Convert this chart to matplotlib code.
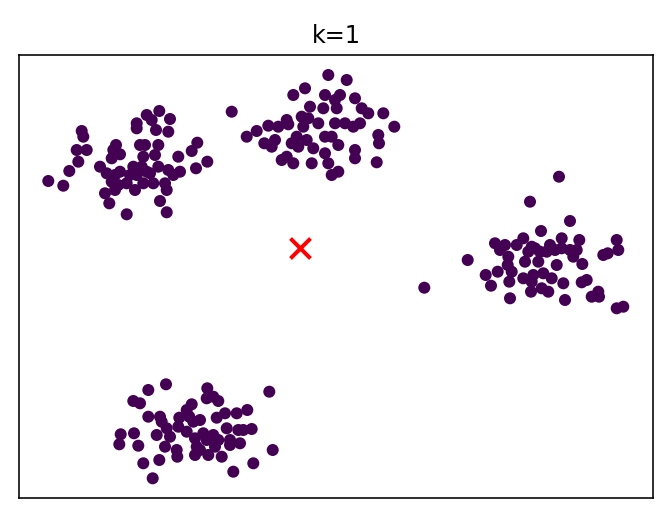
import numpy as np
import matplotlib
matplotlib.use("Agg")
import matplotlib.pyplot as plt

# point positions (x right, y up)
cluster_a = [(48.3, 181), (63.3, 185.7), (69.3, 171), (78.3, 161.7), (76.7, 150), (86.7, 150),
             (81.7, 131), (83.3, 136.7), (100, 166.7), (105, 193.3), (109.3, 203.3), (106.7, 173.3),
             (111.7, 158.3), (113.3, 150), (116, 145), (120, 154.3), (115, 175), (118.3, 185),
             (115, 190), (126.7, 214.3), (120, 171.7), (126.7, 183.3), (133.3, 166.7), (135, 190),
             (136.7, 128.3), (136.7, 123.3), (140, 145), (145, 145), (143.3, 156.7), (141.7, 166.7),
             (146.7, 115), (151.7, 120), (159.3, 111), (156, 130), (168.3, 131.7), (170, 119),
             (158.3, 145), (155, 155), (158.3, 166.7), (146.7, 171.7), (143.3, 183.3), (153.3, 183.3),
             (165, 183.3), (166.7, 190), (160, 201), (166.7, 212.3), (168.3, 170), (173.3, 175),
             (180, 171.7), (178.3, 156.7), (191.7, 151), (197.3, 142.7), (196, 168.3), (207.3, 161.7),
             (130, 175), (136.7, 175), (150, 173.3), (111.7, 181.7)]
cluster_b = [(231.7, 111.7), (246.7, 136.7), (256.7, 131), (264.3, 143.3), (268.3, 125.7), (275, 140),
             (271.7, 146.7), (278.3, 126.7), (286.7, 120), (288.3, 124.3), (293.3, 95), (305, 88.3),
             (281.7, 160), (286.7, 156.7), (293.3, 163.3), (291.7, 143.3), (296.7, 136.7), (301.7, 116.7),
             (310, 106.7), (303.3, 126.7), (306.7, 140), (313.3, 148.3), (311.7, 163.3), (318.3, 123.3),
             (323.3, 108.3), (325, 95), (328.3, 75), (335, 100), (340, 95), (336.7, 108.3),
             (335, 123.3), (325, 136.7), (331.7, 136.7), (338.3, 145), (325, 153.3), (328.3, 163.3),
             (331.7, 175), (338.3, 171.7), (346.7, 80), (345, 123.3), (353.3, 126.7), (360, 123.3),
             (355, 98.3), (361.7, 108.3), (368.3, 113.3), (383.3, 113.3), (394.3, 126.7), (378.3, 135),
             (379, 143.3), (355, 150), (355, 158.3), (376.7, 162.3), (308.3, 118.3), (298.3, 146.7)]
cluster_c = [(424.3, 287.7), (467.7, 260), (485.7, 275), (491, 285.7), (497.7, 271.7), (495, 243.3),
             (500, 250), (505, 245), (508.3, 256.7), (507.7, 265), (511.7, 271.7), (509.3, 281.7),
             (510, 298.3), (516.7, 245), (523.3, 238.3), (525, 261.7), (523.3, 278.3), (530, 201.7),
             (531.7, 246.7), (533.3, 275), (531.7, 281.7), (531, 291.7), (541, 231), (540, 251.7),
             (538.3, 261.7), (543.3, 273.3), (541.7, 288.3), (548.3, 291.7), (546.7, 251.7), (550, 245),
             (551.7, 278.3), (556.7, 265), (559, 176.7), (561.7, 238.3), (561.7, 248.3), (563.3, 283.3),
             (565, 300), (570, 221), (570, 250), (573.3, 256.7), (579.3, 240), (576.7, 250),
             (582.3, 264), (581.7, 282.3), (586.7, 280), (591.7, 296.7), (598.3, 291.7), (599, 296.7),
             (603.3, 255), (607.7, 253.3), (616.7, 240), (618.3, 250), (616.7, 308.3), (623.3, 306.7),
             (528.3, 251.7), (535, 248.3), (555, 250)]
cluster_d = [(148.3, 390), (166, 384.3), (133.3, 401), (140, 403.3), (148.3, 416.7), (160, 416.7),
             (161.7, 421.7), (166.7, 428.3), (120.7, 434.3), (119.3, 444.3), (134, 433.3), (138.3, 445.7),
             (156.7, 435), (165, 446.7), (170, 436.7), (143.3, 463.3), (159.3, 460), (152.7, 478.3),
             (179.3, 417.7), (178.3, 426.7), (176.7, 450), (177.3, 456.7), (186.7, 410), (191.7, 404.3),
             (189.3, 416.7), (193.3, 421.7), (200, 420), (195, 438.3), (196.7, 446.7), (195, 455),
             (203.3, 433.3), (206.7, 440), (208.3, 455), (207.3, 388.3), (206.7, 398.3), (213.3, 396.7),
             (218.3, 401), (216.7, 417.7), (225, 413.3), (213.3, 435), (218.3, 440), (215, 446.7),
             (221.7, 456.7), (226.7, 428.3), (230, 440), (230, 445), (236.7, 413.3), (247.3, 410),
             (238.3, 430), (243.3, 430), (251.7, 429), (240, 443.3), (233.3, 471.7), (253.3, 463.3),
             (269.3, 391.7), (272.7, 450), (200, 450), (186.7, 431.7)]
centroid = (300, 248)

pts = np.array(cluster_a + cluster_b + cluster_c + cluster_d)
x = pts[:, 0]
y = 518 - pts[:, 1]

DPI = 144
fig = plt.figure(figsize=(672 / DPI, 518 / DPI), dpi=DPI)
ax = fig.add_axes([19 / 672, 20 / 518, 634 / 672, 443 / 518])
ax.scatter(x, y, c=np.zeros(len(x)), cmap='viridis', vmin=0, vmax=1, s=25)
ax.scatter([centroid[0]], [518 - centroid[1]], marker='x', c='red', s=100, linewidths=2)
ax.set_xlim(19, 653)
ax.set_ylim(20, 463)
ax.set_xticks([])
ax.set_yticks([])
ax.set_title("k=1")
plt.savefig("out.png", dpi=DPI)
